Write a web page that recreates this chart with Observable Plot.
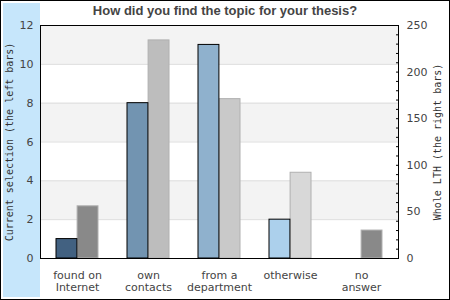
<!DOCTYPE html>
<html><head><meta charset="utf-8">
<script src="https://cdn.jsdelivr.net/npm/d3@7"></script>
<script src="https://cdn.jsdelivr.net/npm/@observablehq/plot@0.6"></script>
<style>
body{margin:0;background:#fff}
#wrap{position:relative;width:450px;height:300px;overflow:hidden;background:#fff}
#strip{position:absolute;left:3px;top:3px;width:37px;height:294px;background:#c6e6fb}
#chart{position:absolute;left:0;top:0}
#border{position:absolute;left:0;top:0;width:450px;height:300px;box-sizing:border-box;border:1px solid #000;pointer-events:none}
#title{position:absolute;left:0;top:3px;width:450px;text-align:center;font:bold 13px/16px "Liberation Sans",Arial,sans-serif;color:#444}
</style></head><body>
<div id="wrap"><div id="strip"></div><div id="chart"></div><div id="title">How did you find the topic for your thesis?</div><div id="border"></div></div>
<script>
const categories = ["found on\nInternet", "own\ncontacts", "from a\ndepartment", "otherwise", "no\nanswer"];
const currentSelection = [1, 8, 11, 2, 0];
const wholeLTH = [56, 234, 171, 92, 30];
const leftTicks = [0, 2, 4, 6, 8, 10, 12];
const rightTicks = d3.range(0, 251, 10);
const rightLabels = [0, 50, 100, 150, 200, 250];
const leftColors = ["#426181", "#7294b1", "#8fb1cd", "#acd0ec", "#cfe3f3"];
const rightColors = ["#898989", "#bdbdbd", "#c9c9c9", "#d8d8d8", "#898989"];
const leftLabel = "Current selection (the left bars)";
const rightLabel = "Whole LTH (the right bars)";

const leftMax = leftTicks[leftTicks.length - 1];
const rightMax = rightLabels[rightLabels.length - 1];
const k = leftMax / rightMax;

const rows = categories.map((c, i) => ({
  cat: c, cur: currentSelection[i], lth: wholeLTH[i] * k,
  lc: leftColors[i], rc: rightColors[i]
}));
const bands = d3.range(1, leftTicks.length - 1, 2).map(i => ({y1: leftTicks[i], y2: leftTicks[i + 1]}));
const half = 21.1;

const chart = Plot.plot({
  width: 450, height: 300,
  marginLeft: 40, marginRight: 52, marginTop: 25, marginBottom: 42,
  style: {fontFamily: "DejaVu Sans", fontSize: "11px", color: "#444", background: "transparent"},
  x: {type: "band", domain: categories, paddingInner: 0.41, paddingOuter: 0.205},
  y: {domain: [0, leftMax]},
  marks: [
    Plot.rectY(bands, {y1: "y1", y2: "y2", fill: "#f3f3f3"}),
    Plot.ruleY(leftTicks.slice(1, -1), {stroke: "#dddddd"}),
    Plot.barY(rows, {x: "cat", y: "lth", fill: "rc", stroke: "#b0b0b0", insetLeft: half}),
    Plot.barY(rows.filter(d => d.cur > 0), {x: "cat", y: "cur", fill: "lc", stroke: "black", insetRight: half}),
    Plot.frame({stroke: "black"}),
    Plot.axisX({anchor: "bottom", tickSize: 0, tickPadding: 12, lineHeight: 1.1, label: null, fill: "#444"}),
    Plot.axisY(leftTicks, {anchor: "left", tickSize: 0, tickPadding: 7, label: null, fill: "#444"}),
    Plot.axisY(rightTicks.map(v => v * k), {anchor: "right", tickSize: 3, dx: -3, stroke: "black", tickFormat: () => "", label: null}),
    Plot.axisY(rightLabels.map(v => v * k), {anchor: "right", tickSize: 0, tickPadding: 8, tickFormat: d => Math.round(d / k), label: null, fill: "#444"}),
    Plot.text([leftLabel], {text: d => d, frameAnchor: "left", textAnchor: "middle", rotate: -90, dx: -31, fontFamily: "DejaVu Sans Mono", fontSize: 10, fill: "#333"}),
    Plot.text([rightLabel], {text: d => d, frameAnchor: "right", textAnchor: "middle", rotate: -90, dx: 39, fontFamily: "DejaVu Sans Mono", fontSize: 10, fill: "#333"})
  ]
});
document.getElementById("chart").appendChild(chart);
</script>
</body></html>
